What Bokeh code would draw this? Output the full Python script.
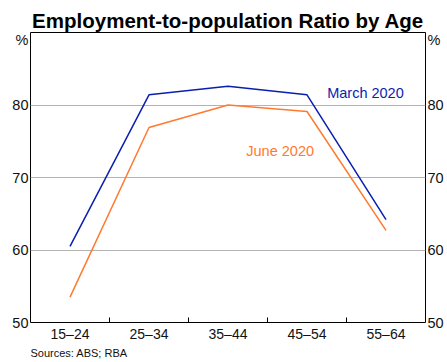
from bokeh.plotting import figure
from bokeh.models import (ColumnDataSource, Range1d, LinearAxis, FixedTicker,
                          Title, Label)
from bokeh.embed import file_html
from bokeh.resources import INLINE

# Employment-to-population ratio by age group, per cent
age_groups = ["15–24", "25–34", "35–44", "45–54", "55–64"]
march_2020 = [60.5, 81.4, 82.6, 81.4, 64.2]
june_2020 = [53.5, 76.9, 80.0, 79.1, 62.7]
y_ticks = [50, 60, 70, 80]

FONT = "Liberation Sans"
BLUE = "#0A1FAF"
ORANGE = "#FF7A2F"
TEXT = "#111111"

# Groups sit at the centre of unit-wide slots
xpos = [i + 0.5 for i in range(len(age_groups))]
src = ColumnDataSource(dict(x=xpos, march=march_2020, june=june_2020))

p = figure(frame_width=395, frame_height=290, output_backend="svg",
           toolbar_location=None,
           x_range=Range1d(0, len(age_groups)), y_range=Range1d(50, 90),
           y_axis_location=None, x_axis_location=None,
           min_border_left=30, min_border_right=22, min_border_top=32,
           min_border_bottom=40)

p.title.text = "Employment-to-population Ratio by Age"
p.title.align = "center"
p.title.text_font = FONT
p.title.text_font_size = "20.5px"
p.title.text_font_style = "bold"
p.title.text_color = "black"
p.title.offset = 0
p.title.standoff = 2

p.outline_line_color = "black"
p.outline_line_width = 1
p.background_fill_color = "white"
p.border_fill_color = "white"

pct_tick = 88.9
for side in ("left", "right"):
    ax = LinearAxis(ticker=FixedTicker(ticks=y_ticks + [pct_tick]))
    ax.major_label_overrides = {pct_tick: "%"}
    ax.axis_line_color = None
    ax.major_tick_line_color = None
    ax.major_tick_in = 0
    ax.major_tick_out = 0
    ax.minor_tick_line_color = None
    ax.major_label_text_font = FONT
    ax.major_label_text_font_size = "14.5px"
    ax.major_label_text_color = TEXT
    ax.major_label_standoff = 2
    p.add_layout(ax, side)

xax = LinearAxis(ticker=FixedTicker(ticks=xpos, minor_ticks=[1, 2, 3, 4]))
xax.major_label_overrides = {x: lab for x, lab in zip(xpos, age_groups)}
xax.axis_line_color = None
xax.major_tick_line_color = None
xax.major_tick_in = 0
xax.major_tick_out = 0
xax.minor_tick_line_color = "black"
xax.minor_tick_in = 5
xax.minor_tick_out = 0
xax.major_label_text_font = FONT
xax.major_label_text_font_size = "14px"
xax.major_label_text_color = TEXT
xax.major_label_standoff = 3
p.add_layout(xax, "below")

p.ygrid.ticker = FixedTicker(ticks=[60, 70, 80])
p.ygrid.grid_line_color = "#b3b3b3"
p.ygrid.grid_line_width = 1
p.xgrid.grid_line_color = None

p.line("x", "march", source=src, line_color=BLUE, line_width=1.5)
p.line("x", "june", source=src, line_color=ORANGE, line_width=1.5)

p.add_layout(Label(x=4.24, y=81.6, text="March 2020", text_align="center",
                   text_baseline="middle", text_font=FONT,
                   text_font_size="14.5px", text_color=BLUE))
p.add_layout(Label(x=3.16, y=73.6, text="June 2020", text_align="center",
                   text_baseline="middle", text_font=FONT,
                   text_font_size="14.5px", text_color=ORANGE))

p.add_layout(Title(text="Sources: ABS; RBA", align="left", text_font=FONT,
                   text_font_size="11px", text_font_style="normal",
                   text_color=TEXT, offset=0, standoff=0), "below")

open("out.html", "w").write(file_html(p, INLINE))
